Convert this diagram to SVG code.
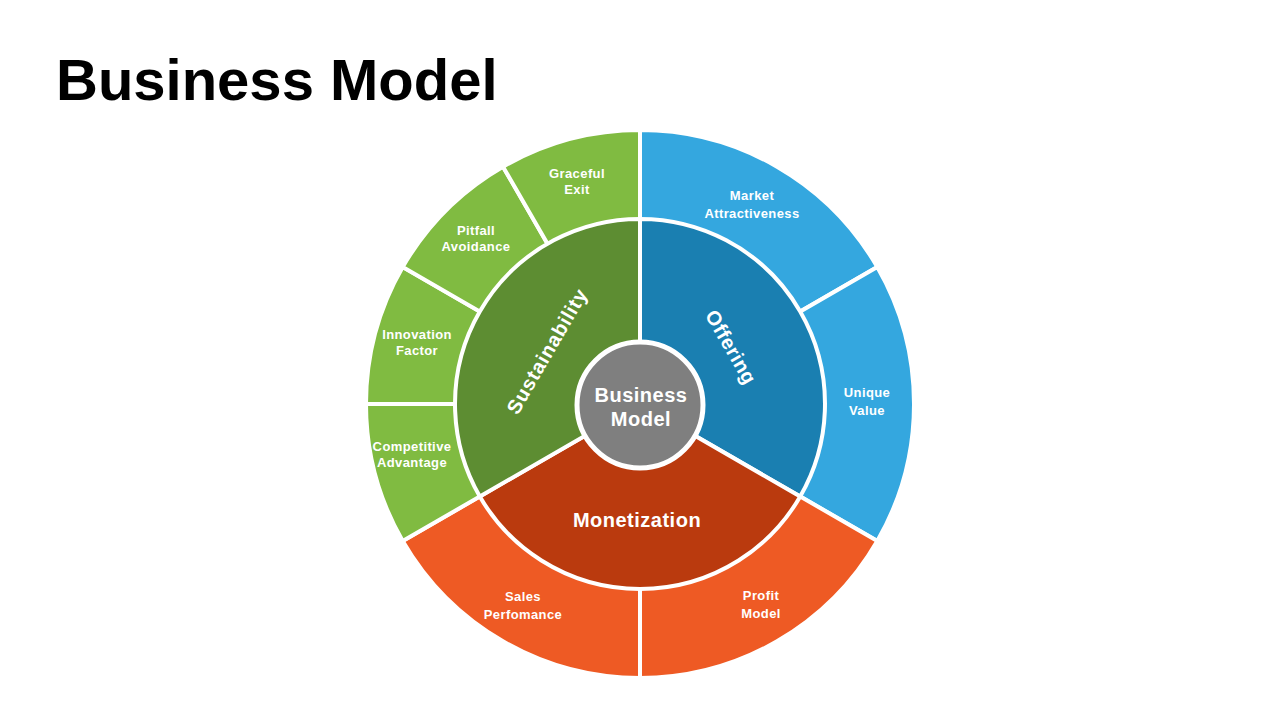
<svg xmlns="http://www.w3.org/2000/svg" width="1280" height="720" viewBox="0 0 1280 720">
<style>
.seg{stroke:#fff;stroke-width:4;stroke-linejoin:miter}
.og{fill:#80BB41}.ig{fill:#5D8D32}
.ob{fill:#34A7DF}.ib{fill:#1A7FB1}
.oo{fill:#EE5A24}.io{fill:#BA3A0E}
.lbl{font-family:"Liberation Sans",Arial,sans-serif;font-weight:bold;font-size:13px;letter-spacing:0.4px;fill:#fff;text-anchor:middle}
.big{font-family:"Liberation Sans",Arial,sans-serif;font-weight:bold;font-size:20px;letter-spacing:0.5px;fill:#fff;text-anchor:middle}
.title{font-family:"Liberation Sans",Arial,sans-serif;font-weight:bold;font-size:58px;fill:#000}
</style>
<rect width="1280" height="720" fill="#fff"/>
<text class="title" x="56" y="100">Business Model</text>

<g id="outer-ring">
<g id="market-attractiveness">
<path class="seg ob" d="M640,404 L640,130 A274,274 0 0 1 877.3,267 Z"/>
<text class="lbl" x="752" y="200">Market</text>
<text class="lbl" x="752" y="218">Attractiveness</text>
</g>
<g id="unique-value">
<path class="seg ob" d="M640,404 L877.3,267 A274,274 0 0 1 877.3,541 Z"/>
<text class="lbl" x="867" y="397">Unique</text>
<text class="lbl" x="867" y="415">Value</text>
</g>
<g id="profit-model">
<path class="seg oo" d="M640,404 L877.3,541 A274,274 0 0 1 640,678 Z"/>
<text class="lbl" x="761" y="600">Profit</text>
<text class="lbl" x="761" y="618">Model</text>
</g>
<g id="sales-performance">
<path class="seg oo" d="M640,404 L640,678 A274,274 0 0 1 402.7,541 Z"/>
<text class="lbl" x="523" y="601">Sales</text>
<text class="lbl" x="523" y="619">Perfomance</text>
</g>
<g id="competitive-advantage">
<path class="seg og" d="M640,404 L402.7,541 A274,274 0 0 1 366,404 Z"/>
<text class="lbl" x="412" y="451">Competitive</text>
<text class="lbl" x="412" y="467">Advantage</text>
</g>
<g id="innovation-factor">
<path class="seg og" d="M640,404 L366,404 A274,274 0 0 1 402.7,267 Z"/>
<text class="lbl" x="417" y="339">Innovation</text>
<text class="lbl" x="417" y="355">Factor</text>
</g>
<g id="pitfall-avoidance">
<path class="seg og" d="M640,404 L402.7,267 A274,274 0 0 1 503,166.7 Z"/>
<text class="lbl" x="476" y="235">Pitfall</text>
<text class="lbl" x="476" y="251">Avoidance</text>
</g>
<g id="graceful-exit">
<path class="seg og" d="M640,404 L503,166.7 A274,274 0 0 1 640,130 Z"/>
<text class="lbl" x="577" y="178">Graceful</text>
<text class="lbl" x="577" y="194">Exit</text>
</g>
</g>

<g id="inner-ring">
<g id="offering">
<path class="seg ib" d="M640,404 L640,219 A185,185 0 0 1 800.2,496.5 Z"/>
<text class="big" transform="translate(731,347) rotate(60)" y="7" font-size="20.5">Offering</text>
</g>
<g id="monetization">
<path class="seg io" d="M640,404 L800.2,496.5 A185,185 0 0 1 479.8,496.5 Z"/>
<text class="big" x="637" y="527">Monetization</text>
</g>
<g id="sustainability">
<path class="seg ig" d="M640,404 L479.8,496.5 A185,185 0 0 1 640,219 Z"/>
<text class="big" transform="translate(547,351) rotate(-60)" y="7" style="letter-spacing:0.8px">Sustainability</text>
</g>
</g>

<g id="business-model-center">
<circle cx="640" cy="405" r="63" fill="#7F7F7F" stroke="#fff" stroke-width="5"/>
<text class="big" x="641" y="402">Business</text>
<text class="big" x="641" y="426">Model</text>
</g>
</svg>
